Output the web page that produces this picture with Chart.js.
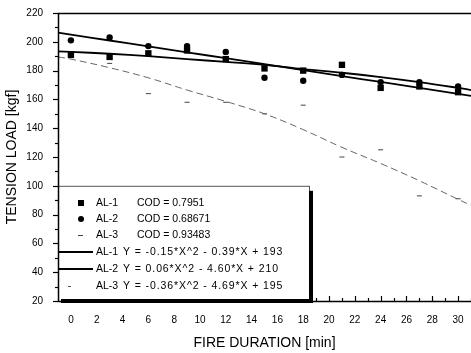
<!DOCTYPE html>
<html>
<head>
<meta charset="utf-8">
<script src="https://cdn.jsdelivr.net/npm/chart.js@4.4.0/dist/chart.umd.min.js"></script>
<style>
  html, body { margin: 0; padding: 0; background: #fff; overflow: hidden; }
</style>
</head>
<body>
<canvas id="myChart" width="471" height="353"></canvas>
<script>
// measured values (fire duration in min, tension load in kgf)
const durations = [0, 3, 6, 9, 12, 15, 18, 21, 24, 27, 30];
const al1Values = [191, 189.5, 192, 194, 188, 181.5, 180, 184, 168, 169, 165];
const al2Values = [201, 203, 197, 197, 193, 175, 173, 177, 172, 172, 169];
const al3Values = [189, 185, 164, 158, 158, 150, 156, 120, 125, 93, 91];

// fitted curves
const fitX = [-1, 0, 3, 6, 9, 12, 15, 18, 21, 24, 27, 30, 31];
const al1Fit = [193.4, 193, 191.7, 190, 188, 186, 184, 181, 178.5, 175.5, 172, 168, 166.5];
const al2Fit = [206.4, 205, 200.9, 196.8, 192.7, 188.6, 184.5, 180.3, 176.2, 172.1, 168, 163.9, 162.5];
const al3Fit = [189.5, 188, 182, 175, 166.5, 158.6, 150, 139, 126.7, 115.5, 103.5, 90.6, 86.4];

// tick labels
const xTicks = [0, 2, 4, 6, 8, 10, 12, 14, 16, 18, 20, 22, 24, 26, 28, 30];
const yTicks = [20, 40, 60, 80, 100, 120, 140, 160, 180, 200, 220];

const seriesNames = ["AL-1", "AL-2", "AL-3"];
const codValues = ["0.7951", "0.68671", "0.93483"];
const fitEquations = [
  "Y = -0.15*X^2 - 0.39*X + 193",
  "Y = 0.06*X^2 - 4.60*X + 210",
  "Y = -0.36*X^2 - 4.69*X + 195"
];

const FONT = "'Liberation Sans', Arial, sans-serif";

function pts(xs, ys) {
  return xs.map((x, i) => ({ x: x, y: ys[i] }));
}

// axis lines, tick marks, top frame and the boxed legend
const framePlugin = {
  id: "frame",
  afterDraw(chart) {
    const ctx = chart.ctx;
    const a = chart.chartArea;
    const xs = chart.scales.x, ys = chart.scales.y;
    ctx.save();
    ctx.strokeStyle = "#000";
    ctx.fillStyle = "#000";

    // y ticks (outside, major + minor)
    ctx.lineWidth = 1.2;
    yTicks.forEach((v, i) => {
      const y = Math.round(ys.getPixelForValue(v)) + 0.5;
      ctx.beginPath(); ctx.moveTo(a.left - 5, y); ctx.lineTo(a.left, y); ctx.stroke();
      if (i < yTicks.length - 1) {
        const ym = Math.round(ys.getPixelForValue(v + 10)) + 0.5;
        ctx.beginPath(); ctx.moveTo(a.left - 3, ym); ctx.lineTo(a.left, ym); ctx.stroke();
      }
    });
    // x ticks (inside, major + minor)
    xTicks.forEach((v) => {
      const x = Math.round(xs.getPixelForValue(v)) + 0.5;
      ctx.beginPath(); ctx.moveTo(x, a.bottom); ctx.lineTo(x, a.bottom - 5); ctx.stroke();
      const xm = Math.round(xs.getPixelForValue(v + 1)) + 0.5;
      ctx.beginPath(); ctx.moveTo(xm, a.bottom); ctx.lineTo(xm, a.bottom - 3); ctx.stroke();
    });

    // legend box
    const bx = a.left, by = ys.getPixelForValue(100), bw = 251, bh = a.bottom - by;
    ctx.fillStyle = "#fff";
    ctx.fillRect(bx, by, bw, bh);
    ctx.lineWidth = 1;
    ctx.strokeStyle = "#555";
    ctx.strokeRect(bx + 0.5, by + 0.5, bw, bh);
    ctx.fillStyle = "#000";
    ctx.fillRect(bx + bw, by + 5, 4, bh - 3);
    ctx.fillRect(bx + 3, a.bottom - 2, bw, 4);

    const rows = [203, 219, 235, 252, 269, 286];
    ctx.font = "10.5px " + FONT;
    ctx.textBaseline = "middle";
    ctx.textAlign = "left";
    // marker rows
    for (let i = 0; i < 3; i++) {
      const y = rows[i];
      if (i === 0) ctx.fillRect(78, y - 3, 6, 6);
      if (i === 1) { ctx.beginPath(); ctx.arc(81, y, 3, 0, Math.PI * 2); ctx.fill(); }
      if (i === 2) { ctx.fillStyle = "#444"; ctx.fillRect(78, y, 5, 1); ctx.fillStyle = "#000"; }
      ctx.fillText(seriesNames[i], 96, y);
      ctx.fillText("COD = " + codValues[i], 137, y);
    }
    // fit rows
    for (let i = 0; i < 3; i++) {
      const y = rows[i + 3];
      ctx.strokeStyle = "#000";
      if (i < 2) {
        ctx.lineWidth = 1.8;
        ctx.beginPath(); ctx.moveTo(a.left, y); ctx.lineTo(93, y); ctx.stroke();
      } else {
        ctx.fillStyle = "#555"; ctx.fillRect(68, y, 3, 1); ctx.fillStyle = "#000";
      }
      ctx.letterSpacing = "0px";
      ctx.fillText(seriesNames[i], 96, y);
      ctx.letterSpacing = "0.9px";
      ctx.fillText(fitEquations[i], 123, y);
    }
    ctx.letterSpacing = "0px";

    // axes and top frame
    ctx.strokeStyle = "#000";
    ctx.lineWidth = 1.5;
    ctx.beginPath();
    ctx.moveTo(a.right, a.top + 0.5); ctx.lineTo(a.left + 0.5, a.top + 0.5);
    ctx.lineTo(a.left + 0.5, a.bottom + 0.5); ctx.lineTo(a.right, a.bottom + 0.5);
    ctx.stroke();
    ctx.restore();
  }
};

const ctx = document.getElementById("myChart").getContext("2d");
const myChart = new Chart(ctx, {
  type: "scatter",
  data: {
    datasets: [
      {
        label: "AL-1 fit", data: pts(fitX, al1Fit), showLine: true,
        borderColor: "#000", borderWidth: 1.8, pointRadius: 0, tension: 0.4
      },
      {
        label: "AL-2 fit", data: pts(fitX, al2Fit), showLine: true,
        borderColor: "#000", borderWidth: 1.8, pointRadius: 0, tension: 0.4
      },
      {
        label: "AL-3 fit", data: pts(fitX, al3Fit), showLine: true,
        borderColor: "#666", borderWidth: 1, borderDash: [7, 4], pointRadius: 0, tension: 0.4
      },
      {
        label: "AL-1", data: pts(durations, al1Values), pointStyle: "rect",
        pointRadius: 4.5, backgroundColor: "#000", borderColor: "#000", borderWidth: 0
      },
      {
        label: "AL-2", data: pts(durations, al2Values), pointStyle: "circle",
        pointRadius: 3.2, backgroundColor: "#000", borderColor: "#000", borderWidth: 0
      },
      {
        label: "AL-3", data: pts(durations, al3Values), pointStyle: "line",
        pointRadius: 2.5, backgroundColor: "#444", borderColor: "#444", borderWidth: 1
      }
    ]
  },
  options: {
    responsive: false,
    animation: false,
    layout: { autoPadding: false, padding: { top: 11, right: 0, bottom: 0, left: 0 } },
    plugins: { legend: { display: false }, tooltip: { enabled: false } },
    scales: {
      x: {
        type: "linear", min: -1, max: 31,
        grid: { display: false }, border: { display: false },
        afterBuildTicks: (s) => { s.ticks = xTicks.map((v) => ({ value: v })); },
        ticks: { padding: 5, color: "#000", font: { family: FONT, size: 10 } },
        title: { display: true, text: "FIRE DURATION [min]", color: "#000", padding: { top: 0, bottom: 1 }, font: { family: FONT, size: 14 } },
        afterFit: (s) => { s.height = 52; }
      },
      y: {
        min: 20, max: 220,
        grid: { display: false }, border: { display: false },
        afterBuildTicks: (s) => { s.ticks = yTicks.map((v) => ({ value: v })); },
        ticks: { padding: 7, color: "#000", font: { family: FONT, size: 10 } },
        title: { display: true, text: "TENSION LOAD [kgf]", color: "#000", padding: { top: 4, bottom: 0 }, font: { family: FONT, size: 14 } },
        afterFit: (s) => { s.width = 58; }
      }
    }
  },
  plugins: [framePlugin]
});
</script>
</body>
</html>
